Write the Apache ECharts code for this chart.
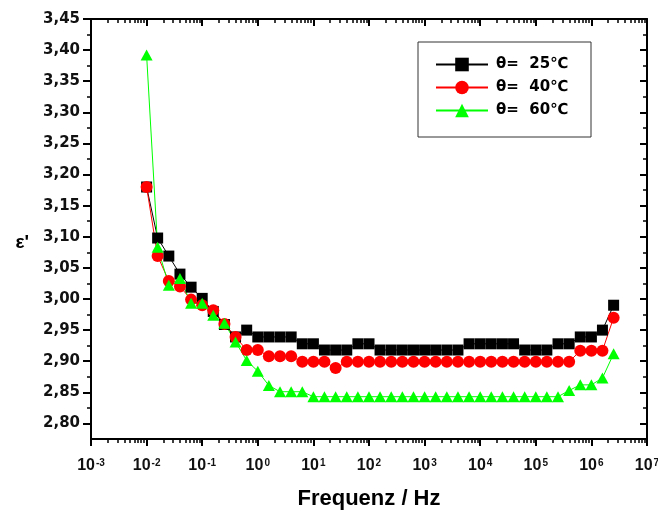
<!DOCTYPE html>
<html><head><meta charset="utf-8">
<script src="https://cdn.jsdelivr.net/npm/echarts@6/dist/echarts.min.js"></script>
<style>html,body{margin:0;padding:0;background:#fff}#c{width:658px;height:511px}</style>
</head><body><div id="c"></div>
<script>
// ---- data ----
const frequencies = [0.01, 0.0158, 0.0251, 0.0398, 0.0631, 0.1, 0.158, 0.251, 0.398, 0.631,
  1, 1.58, 2.51, 3.98, 6.31, 10, 15.8, 25.1, 39.8, 63.1,
  100, 158, 251, 398, 631, 1000, 1580, 2510, 3980, 6310,
  1e4, 1.58e4, 2.51e4, 3.98e4, 6.31e4, 1e5, 1.58e5, 2.51e5, 3.98e5, 6.31e5,
  1e6, 1.58e6, 2.51e6];
const eps25 = [3.18, 3.098, 3.069, 3.04, 3.019, 3.001, 2.98, 2.959, 2.939, 2.95,
  2.939, 2.939, 2.939, 2.939, 2.928, 2.928, 2.918, 2.918, 2.918, 2.928,
  2.928, 2.918, 2.918, 2.918, 2.918, 2.918, 2.918, 2.918, 2.918, 2.928,
  2.928, 2.928, 2.928, 2.928, 2.918, 2.918, 2.918, 2.928, 2.928, 2.939,
  2.939, 2.95, 2.99];
const eps40 = [3.18, 3.069, 3.029, 3.02, 2.999, 2.99, 2.982, 2.96, 2.939, 2.918,
  2.918, 2.908, 2.908, 2.908, 2.899, 2.899, 2.899, 2.889, 2.899, 2.899,
  2.899, 2.899, 2.899, 2.899, 2.899, 2.899, 2.899, 2.899, 2.899, 2.899,
  2.899, 2.899, 2.899, 2.899, 2.899, 2.899, 2.899, 2.899, 2.899, 2.917,
  2.917, 2.917, 2.97];
const eps60 = [3.392, 3.083, 3.022, 3.033, 2.993, 2.993, 2.974, 2.961, 2.931, 2.901,
  2.884, 2.861, 2.851, 2.851, 2.851, 2.843, 2.843, 2.843, 2.843, 2.843,
  2.843, 2.843, 2.843, 2.843, 2.843, 2.843, 2.843, 2.843, 2.843, 2.843,
  2.843, 2.843, 2.843, 2.843, 2.843, 2.843, 2.843, 2.843, 2.853, 2.862,
  2.862, 2.873, 2.912];
const seriesNames = ['θ=  25℃', 'θ=  40℃', 'θ=  60℃'];
const yTickLabels = [2.80, 2.85, 2.90, 2.95, 3.00, 3.05, 3.10, 3.15, 3.20, 3.25, 3.30, 3.35, 3.40, 3.45];
const yMinorTicks = [2.825, 2.875, 2.925, 2.975, 3.025, 3.075, 3.125, 3.175, 3.225, 3.275, 3.325, 3.375, 3.425];
const xDecadeExponents = [-3, -2, -1, 0, 1, 2, 3, 4, 5, 6, 7];
const xMinorMultipliers = [2, 3, 4, 5, 6, 7, 8, 9];

// ---- build ----
const FONT = 'Arial, "Liberation Sans", Helvetica, sans-serif';
const WIDE = '"DejaVu Sans", Arial, sans-serif';
const xMinorTicks = [];
xDecadeExponents.slice(0, -1).forEach(n => xMinorMultipliers.forEach(m => xMinorTicks.push(n + Math.log10(m))));
const pair = arr => frequencies.map((f, i) => [f, arr[i]]);
const blackLine = {color: '#000', width: 2};

const decoX = (pos, inside, major) => ({
  type: 'value', min: -3, max: 7, interval: 1, position: pos, gridIndex: 0,
  axisLine: {show: major, onZero: false, lineStyle: blackLine},
  axisTick: major ? {show: true, inside: inside, length: 7, lineStyle: {color: '#000', width: 2}}
                  : {show: true, inside: inside, length: 4, customValues: xMinorTicks, lineStyle: {color: '#000', width: 1.5}},
  axisLabel: {show: false},
  splitLine: {show: false}
});
const decoY = (pos, inside, major) => ({
  type: 'value', min: 2.775, max: 3.45, position: pos, gridIndex: 0,
  axisLine: {show: major, onZero: false, lineStyle: blackLine},
  axisTick: {show: true, inside: inside, length: major ? 7 : 4, customValues: major ? yTickLabels : yMinorTicks,
             lineStyle: {color: '#000', width: major ? 2 : 1.5}},
  axisLabel: {show: false},
  splitLine: {show: false}
});

const xMain = decoX('bottom', false, true);
xMain.axisLabel = {
  show: true, margin: 19,
  formatter: v => '{b|10}{s|' + v + '}',
  rich: {
    b: {fontSize: 16, fontWeight: 'bold', color: '#111', fontFamily: FONT},
    s: {fontSize: 10, fontWeight: 'bold', color: '#111', fontFamily: FONT, verticalAlign: 'top', padding: [0, 0, 6, 1]}
  }
};
xMain.name = 'Frequenz / Hz';
xMain.nameLocation = 'middle';
xMain.nameGap = 49;
xMain.nameTextStyle = {fontSize: 22, fontWeight: 'bold', color: '#000', fontFamily: FONT};

const yMain = decoY('left', false, true);
yMain.axisTick.length = 8;
yMain.axisLabel = {
  show: true, margin: 11, customValues: yTickLabels,
  formatter: v => v.toFixed(2).replace('.', ','),
  fontSize: 15, fontWeight: 'bold', color: '#111', fontFamily: WIDE
};
yMain.name = "ε'";
yMain.nameLocation = 'middle';
yMain.nameRotate = 0;
yMain.nameGap = 62;
yMain.nameTextStyle = {fontSize: 19, fontWeight: 'bold', color: '#000', fontFamily: FONT, verticalAlign: 'top', padding: [4, 0, 0, 0]};

const mk = (name, arr, color, symbol, size) => ({
  name: name, type: 'line', xAxisIndex: 0, yAxisIndex: 0, data: pair(arr),
  symbol: symbol, symbolSize: size, showAllSymbol: true,
  itemStyle: {color: color}, lineStyle: {color: color, width: 1},
  emphasis: {disabled: true}, animation: false
});

const option = {
  animation: false,
  backgroundColor: '#fff',
  grid: {left: 91, right: 11, top: 19, bottom: 72, containLabel: false, outerBoundsMode: 'none'},
  xAxis: [
    {type: 'log', logBase: 10, min: 0.001, max: 1e7, gridIndex: 0, show: false, splitLine: {show: false}},
    xMain,
    decoX('bottom', false, false),
    decoX('top', true, true),
    decoX('top', true, false)
  ],
  yAxis: [
    yMain,
    decoY('left', false, false),
    decoY('right', true, true),
    decoY('right', true, false)
  ],
  legend: {
    orient: 'vertical', left: 435, top: 57, padding: 0,
    itemWidth: 52, itemHeight: 17, itemGap: 8, selectedMode: false,
    textStyle: {fontSize: 15, fontWeight: 'bold', color: '#000', fontFamily: WIDE, padding: [0, 0, 0, 3]},
    data: seriesNames
  },
  graphic: [{
    type: 'rect', shape: {x: 418, y: 42, width: 173, height: 95},
    style: {fill: 'transparent', stroke: '#333', lineWidth: 1}, silent: true
  }],
  series: [
    mk(seriesNames[0], eps25, '#000000', 'rect', 11),
    mk(seriesNames[1], eps40, '#ff0000', 'circle', 12),
    mk(seriesNames[2], eps60, '#00ff00', 'triangle', [12, 11])
  ]
};
const chart = echarts.init(document.getElementById('c'), null, {renderer: 'canvas'});
chart.setOption(option);
</script></body></html>
